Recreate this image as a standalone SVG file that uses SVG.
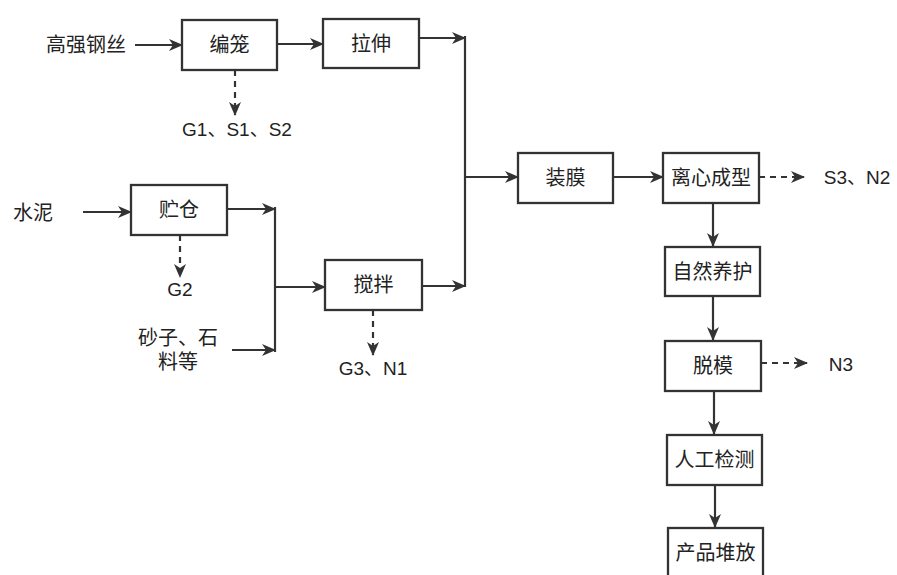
<svg xmlns="http://www.w3.org/2000/svg" width="897" height="575" viewBox="0 0 897 575">
<defs>
<marker id="ah" viewBox="0 0 14 12" refX="13" refY="6" markerWidth="14" markerHeight="12" markerUnits="userSpaceOnUse" orient="auto">
<path d="M0,0 L14,6 L0,12 L4,6 z" fill="#333"/>
</marker>
<style>
.box{fill:#fff;stroke:#333;stroke-width:2.3}
.t{font-family:"Liberation Sans","Noto Sans CJK SC",sans-serif;font-size:20px;fill:#222;text-anchor:middle;dominant-baseline:central}
.s{font-family:"Liberation Sans","Noto Sans CJK SC",sans-serif;font-size:19px;fill:#222;text-anchor:middle;dominant-baseline:central}
.l{fill:none;stroke:#333;stroke-width:2.2}
.d{fill:none;stroke:#333;stroke-width:2.2;stroke-dasharray:6,5}
</style>
</defs>
<rect width="897" height="575" fill="#fff"/>
<g id="connectors">
<path class="l" d="M135,45 H182" marker-end="url(#ah)"/>
<path class="l" d="M277,44 H323" marker-end="url(#ah)"/>
<path class="l" d="M419,38 H465" marker-end="url(#ah)"/>
<path class="l" d="M465,36 V287"/>
<path class="l" d="M422,286 H465" marker-end="url(#ah)"/>
<path class="l" d="M465,177 H518" marker-end="url(#ah)"/>
<path class="l" d="M613,177 H663" marker-end="url(#ah)"/>
<path class="l" d="M83,212 H131" marker-end="url(#ah)"/>
<path class="l" d="M227,209 H275" marker-end="url(#ah)"/>
<path class="l" d="M275,207 V352"/>
<path class="l" d="M232,350 H275" marker-end="url(#ah)"/>
<path class="l" d="M275,287 H325" marker-end="url(#ah)"/>
<path class="l" d="M713,203 V246" marker-end="url(#ah)"/>
<path class="l" d="M713,296 V340" marker-end="url(#ah)"/>
<path class="l" d="M714,391 V434" marker-end="url(#ah)"/>
<path class="l" d="M715,485 V527" marker-end="url(#ah)"/>
<path class="d" d="M235,70 V115" marker-end="url(#ah)"/>
<path class="d" d="M180,235 V277" marker-end="url(#ah)"/>
<path class="d" d="M373,310 V355" marker-end="url(#ah)"/>
<path class="d" d="M759,177 H804" marker-end="url(#ah)"/>
<path class="d" d="M761,363 H807" marker-end="url(#ah)"/>
</g>
<g id="in-steel"><text class="t" x="86" y="45">高强钢丝</text></g>
<g id="in-cement"><text class="t" x="33" y="213">水泥</text></g>
<g id="in-sand"><text class="t" x="178" y="338">砂子、石</text><text class="t" x="178" y="362">料等</text></g>
<g id="n-bianlong"><rect class="box" x="182" y="20" width="95" height="50"/><text class="t" x="229.5" y="45">编笼</text></g>
<g id="n-lashen"><rect class="box" x="323" y="19" width="96" height="49"/><text class="t" x="371" y="43.5">拉伸</text></g>
<g id="n-zhucang"><rect class="box" x="131" y="185" width="96" height="50"/><text class="t" x="179" y="210">贮仓</text></g>
<g id="n-jiaoban"><rect class="box" x="325" y="260" width="97" height="50"/><text class="t" x="373.5" y="285">搅拌</text></g>
<g id="n-zhuangmo"><rect class="box" x="518" y="153" width="95" height="50"/><text class="t" x="565.5" y="178">装膜</text></g>
<g id="n-lixin"><rect class="box" x="663" y="153" width="96" height="50"/><text class="t" x="711" y="178">离心成型</text></g>
<g id="n-yanghu"><rect class="box" x="665" y="247" width="95" height="49"/><text class="t" x="712.5" y="271.5">自然养护</text></g>
<g id="n-tuomo"><rect class="box" x="665" y="341" width="96" height="50"/><text class="t" x="713" y="366">脱模</text></g>
<g id="n-jiance"><rect class="box" x="667" y="435" width="95" height="50"/><text class="t" x="714.5" y="460">人工检测</text></g>
<g id="n-duifang"><rect class="box" x="668" y="528" width="95" height="52"/><text class="t" x="715.5" y="553">产品堆放</text></g>
<g id="out-g1"><text class="s" x="237" y="129">G1、S1、S2</text></g>
<g id="out-g2"><text class="s" x="180" y="289">G2</text></g>
<g id="out-g3"><text class="s" x="373" y="368">G3、N1</text></g>
<g id="out-s3"><text class="s" x="857" y="177">S3、N2</text></g>
<g id="out-n3"><text class="s" x="841" y="364">N3</text></g>
</svg>
